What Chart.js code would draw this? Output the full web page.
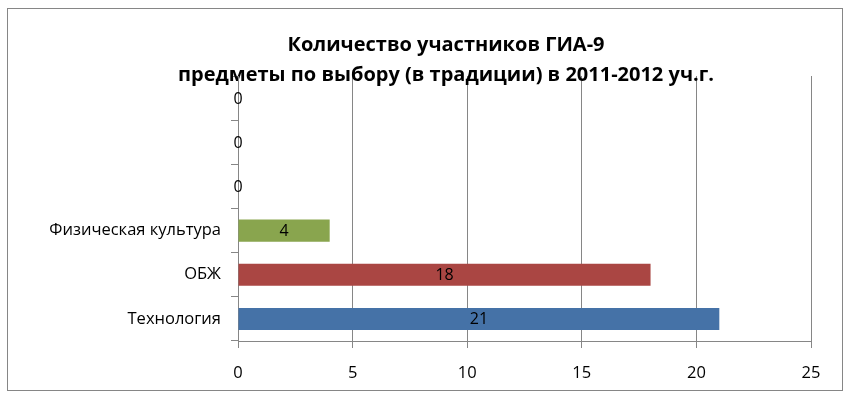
<!DOCTYPE html>
<html>
<head>
<meta charset="utf-8">
<script src="https://cdn.jsdelivr.net/npm/chart.js@4"></script>
<style>
  html, body { margin: 0; padding: 0; background: #fff; }
  #wrap { width: 851px; height: 398px; }
</style>
</head>
<body>
<div id="wrap"><canvas id="gia-chart"></canvas></div>
<script>
// categories bottom to top, as in the original
var subjects = ["Технология", "ОБЖ", "Физическая культура", "", "", ""];
var participants = [21, 18, 4, 0, 0, 0];
var barColors = ["#4572A7", "#AA4643", "#89A54E", "#4572A7", "#4572A7", "#4572A7"];
var xTicks = [0, 5, 10, 15, 20, 25];
var titleLines = ["Количество участников ГИА-9", "предметы по выбору (в традиции) в 2011-2012 уч.г."];

var FONT = "'Open Sans', 'Noto Sans', sans-serif";

// frame round the chart
var framePlugin = {
  id: 'frame',
  beforeDraw: function(chart) {
    var c = chart.ctx;
    c.save();
    c.fillStyle = '#fff';
    c.fillRect(0, 0, chart.width, chart.height);
    c.strokeStyle = '#868686';
    c.lineWidth = 1;
    c.strokeRect(7.5, 8.5, 835, 382);
    c.restore();
  },
  // the title is centred a bit off the plot, so the left padding is wide;
  // widen the y scale's clip box so the long label is not cut
  afterLayout: function(chart) {
    chart.scales.y.left = 8;
  }
};

// value in the middle of each bar
var valueLabels = {
  id: 'valueLabels',
  afterDatasetsDraw: function(chart) {
    var c = chart.ctx;
    var meta = chart.getDatasetMeta(0);
    c.save();
    c.font = '16px ' + FONT;
    c.fillStyle = '#000';
    c.textAlign = 'center';
    c.textBaseline = 'middle';
    meta.data.forEach(function(bar, i) {
      var x = (bar.x + bar.base) / 2;
      c.fillText(String(participants[i]), x, bar.y + 1);
    });
    c.restore();
  }
};

(function() {
  var ctx = document.getElementById('gia-chart');
  new Chart(ctx, {
    type: 'bar',
    data: {
      labels: subjects,
      datasets: [{
        label: 'Участники',
        data: participants,
        backgroundColor: barColors,
        borderWidth: 0,
        barPercentage: 0.5,
        categoryPercentage: 1
      }]
    },
    options: {
      indexAxis: 'y',
      responsive: true,
      maintainAspectRatio: false,
      animation: false,
      layout: { padding: { left: 81, right: 40, top: 8, bottom: 0 } },
      plugins: {
        legend: { display: false },
        tooltip: { enabled: false },
        title: {
          display: true,
          text: titleLines,
          color: '#000',
          font: { family: FONT, size: 20, weight: 'bold', lineHeight: 1.5 },
          padding: { top: 22, bottom: -14 }
        }
      },
      scales: {
        x: {
          min: 0,
          max: 25,
          afterBuildTicks: function(scale) {
            scale.ticks = xTicks.map(function(v) { return { value: v }; });
          },
          afterFit: function(scale) { scale.height = 57; },
          grid: { color: '#868686', tickLength: 7 },
          border: { color: '#868686' },
          ticks: { color: '#000', padding: 15, font: { family: FONT, size: 16.5 } }
        },
        y: {
          reverse: true,
          afterFit: function(scale) { scale.width = 157; },
          grid: { drawOnChartArea: false, color: '#868686', tickLength: 7, offset: true },
          border: { color: '#868686' },
          ticks: { color: '#000', padding: 10, font: { family: FONT, size: 16.5 } }
        }
      }
    },
    plugins: [framePlugin, valueLabels]
  });
})();
</script>
</body>
</html>
